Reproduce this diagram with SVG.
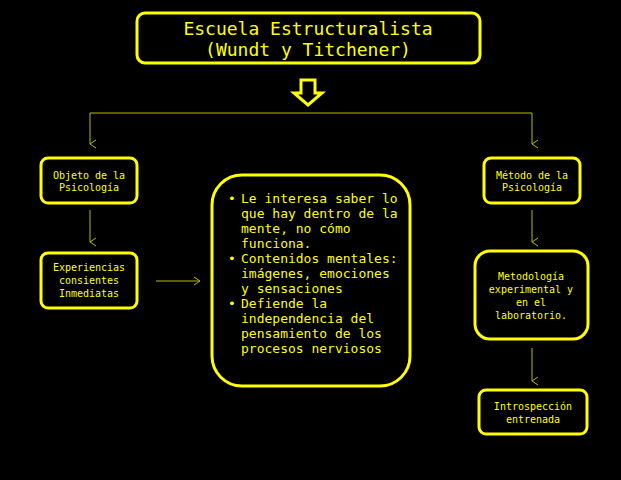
<svg xmlns="http://www.w3.org/2000/svg" width="621" height="480" viewBox="0 0 621 480">
<style>
.b{fill:#000;stroke:#ffff00;stroke-width:3}
.t{fill:#ffff00;font-family:"DejaVu Sans Mono",monospace;text-anchor:middle}
.s{font-size:10px}
.c{stroke:#b8b800;stroke-width:1;fill:none}
.m{fill:#ffff00;font-family:"DejaVu Sans Mono",monospace;font-size:13px}
</style>
<defs><marker id="a" markerWidth="10" markerHeight="10" refX="5" refY="8" orient="auto-start-reverse" markerUnits="userSpaceOnUse" viewBox="0 0 10 10"><path d="M1,2 L5,8 L9,2" fill="none" stroke="#b8b800"/></marker>
<marker id="r" markerWidth="10" markerHeight="10" refX="8" refY="5" markerUnits="userSpaceOnUse" viewBox="0 0 10 10"><path d="M2,1 L8,5 L2,9" fill="none" stroke="#b8b800"/></marker></defs>
<rect width="621" height="480" fill="#000"/>
<g id="title"><rect class="b" x="137" y="13" width="343" height="50" rx="8"/>
<text class="t" x="308" y="35" font-size="18">Escuela Estructuralista</text>
<text class="t" x="308" y="56" font-size="18">(Wundt y Titchener)</text></g>
<g id="bigarrow"><path d="M301,80 H315 V93 H322 L308,105 L294,93 H301 Z" fill="#000" stroke="#ffff00" stroke-width="3"/></g>
<g id="connectors">
<path class="c" d="M90,144 V113 H532 V144" marker-start="url(#a)" marker-end="url(#a)"/>
<path class="c" d="M90,210 V242" marker-end="url(#a)"/>
<path class="c" d="M156,281 H200" marker-end="url(#r)"/>
<path class="c" d="M532,210 V242" marker-end="url(#a)"/>
<path class="c" d="M532,348 V381" marker-end="url(#a)"/>
</g>
<g id="objeto"><rect class="b" x="41" y="158" width="96" height="45" rx="7"/>
<text class="t s" x="89" y="179">Objeto de la</text><text class="t s" x="89" y="191">Psicología</text></g>
<g id="experiencias"><rect class="b" x="41" y="253" width="96" height="55" rx="7"/>
<text class="t s" x="89" y="271">Experiencias</text><text class="t s" x="89" y="284">consientes</text><text class="t s" x="89" y="297">Inmediatas</text></g>
<g id="centro"><rect class="b" x="212" y="175" width="198" height="211" rx="30"/>
<text class="m"><tspan x="228" y="203">•</tspan><tspan x="241" y="203">Le interesa saber lo</tspan><tspan x="241" y="218">que hay dentro de la</tspan><tspan x="241" y="233">mente, no cómo</tspan><tspan x="241" y="248">funciona.</tspan>
<tspan x="228" y="263">•</tspan><tspan x="241" y="263">Contenidos mentales:</tspan><tspan x="241" y="278">imágenes, emociones</tspan><tspan x="241" y="293">y sensaciones</tspan>
<tspan x="228" y="308">•</tspan><tspan x="241" y="308">Defiende la</tspan><tspan x="241" y="323">independencia del</tspan><tspan x="241" y="338">pensamiento de los</tspan><tspan x="241" y="353">procesos nerviosos</tspan></text></g>
<g id="metodo"><rect class="b" x="484" y="158" width="96" height="45" rx="7"/>
<text class="t s" x="532" y="179">Método de la</text><text class="t s" x="532" y="191">Psicología</text></g>
<g id="metodologia"><rect class="b" x="475" y="251" width="113" height="88" rx="15"/>
<text class="t s" x="531" y="280">Metodología</text><text class="t s" x="531" y="293">experimental y</text><text class="t s" x="531" y="306">en el</text><text class="t s" x="531" y="319">laboratorio.</text></g>
<g id="introspeccion"><rect class="b" x="479" y="390" width="108" height="44" rx="7"/>
<text class="t s" x="533" y="410">Introspección</text><text class="t s" x="533" y="423">entrenada</text></g>
</svg>
